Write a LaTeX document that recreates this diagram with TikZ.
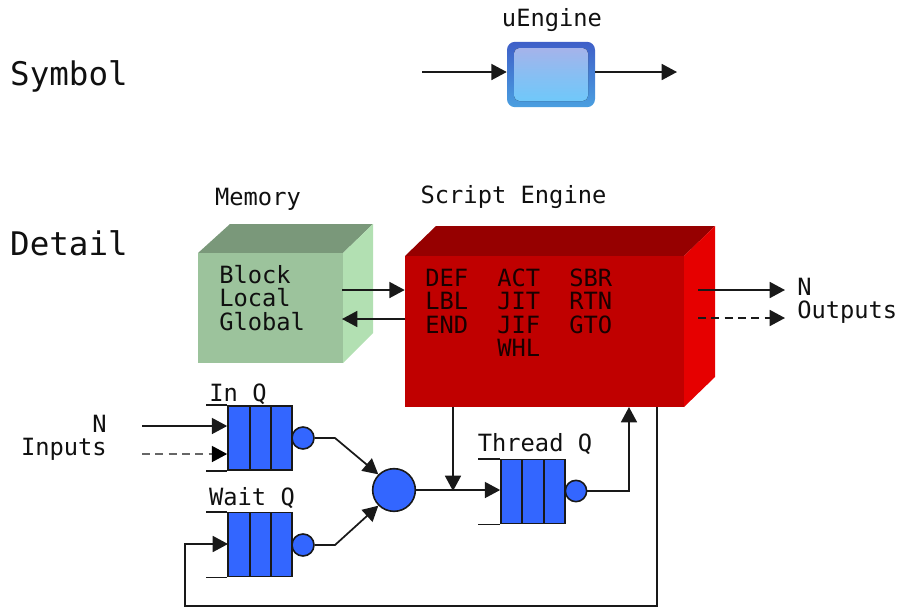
\documentclass[tikz,border=0pt]{standalone}
\usepackage{fontspec}
\setmonofont{DejaVu Sans Mono}
\usetikzlibrary{arrows.meta}
\definecolor{qblue}{HTML}{3366FF}
\definecolor{memfront}{HTML}{9CC39C}
\definecolor{memtop}{HTML}{7A987A}
\definecolor{memside}{HTML}{B2E0B2}
\definecolor{redfront}{HTML}{C00000}
\definecolor{redtop}{HTML}{960000}
\definecolor{redside}{HTML}{E60000}
\definecolor{ink}{HTML}{101010}
\tikzset{
    lbl/.style={font=\ttfamily\fontsize{17.8}{21}\selectfont, text=ink, inner sep=0pt},
    title/.style={font=\ttfamily\fontsize{24.4}{28}\selectfont, text=ink, inner sep=0pt},
    flow/.style={-{Triangle[length=11.5pt,width=12pt]}, line width=1.3pt, black!90},
    plain/.style={line width=1.2pt, black!90},
    queue/.style={draw=black!90, fill=qblue, line width=1.2pt, inner sep=0pt, minimum width=48pt, minimum height=48pt},
    ball/.style={circle, draw=black!90, fill=qblue, line width=1.2pt, inner sep=0pt},
}
\begin{document}
\begin{tikzpicture}[x=0.75pt,y=-0.75pt]
        \useasboundingbox (0,0) rectangle (897,608);
        \node[title] (symbol) at (69,76) {Symbol};
        \node[title] (detail) at (69,243) {Detail};
        % symbol
        \definecolor{uA}{HTML}{3F5FC8}
        \definecolor{uB}{HTML}{4A9FE0}
        \definecolor{uC}{HTML}{A5B3EA}
        \definecolor{uD}{HTML}{6FC8FA}
        \node[lbl] (ulabel) at (552,20) {uEngine};
        \node[rounded corners=6pt, top color=uA, bottom color=uB, minimum width=66pt, minimum height=49pt, inner sep=0pt] (uEng) at (551,74.5) {};
        \fill[rounded corners=4pt, top color=uC, bottom color=uD, middle color=uD!55!uC] (514,48) rectangle (588,101);
        \coordinate (uIn) at (422,72);
        \coordinate (uOut) at (677,72);
        \draw[flow] (uIn) -- (uEng.west |- uIn);
        \draw[flow] (uEng.east |- uOut) -- (uOut);
        % memory
        \node[lbl] (memlabel) at (258,199) {Memory};
        \fill[memtop] (198,253) -- (230,224) -- (373,224) -- (343,253) -- cycle;
        \fill[memside] (343,253) -- (373,224) -- (373,333) -- (343,363) -- cycle;
        \node[fill=memfront, minimum width=108.75pt, minimum height=82.5pt, inner sep=0pt] (Mem) at (270.5,308) {};
        \node[lbl, anchor=west] (block) at (219,275) {Block};
        \node[lbl, anchor=west] (local) at (219,298) {Local};
        \node[lbl, anchor=west] (global) at (219,322) {Global};
        % script engine
        \node[lbl] (englabel) at (513.5,197) {Script Engine};
        \fill[redtop] (405,256) -- (436,226) -- (715,226) -- (684,256) -- cycle;
        \fill[redside] (684,256) -- (715,226) -- (715,377) -- (684,407) -- cycle;
        \node[fill=redfront, minimum width=209.25pt, minimum height=113.25pt, inner sep=0pt] (Eng) at (544.5,331.5) {};
        \foreach \name/\xx/\yy/\word in {def/425/278/DEF, lbl/425/301/LBL, end/425/325/END,
            act/497/278/ACT, jit/497/301/JIT, jif/497/325/JIF, whl/497/348/WHL,
            sbr/569/278/SBR, rtn/569/301/RTN, gto/569/325/GTO}
            \node[lbl, anchor=west, text=black!90!red] (\name) at (\xx,\yy) {\word};
        % queues
        \node[lbl] (inlabel) at (238,394) {In Q};
        \node[queue] (InQ) at (260,438) {};
        \node[ball, minimum size=16.5pt] (InB) at (303,438) {};
        \node[lbl] (waitlabel) at (252,498) {Wait Q};
        \node[queue] (WaitQ) at (260,544.5) {};
        \node[ball, minimum size=16.5pt] (WaitB) at (303,545) {};
        \node[lbl] (threadlabel) at (535,444) {Thread Q};
        \node[queue] (ThreadQ) at (533,491.5) {};
        \node[ball, minimum size=16pt] (ThreadB) at (576,491) {};
        \node[ball, minimum size=32pt] (Merge) at (394,490) {};
        \foreach \q/\ya/\yb in {InQ/406/470, WaitQ/512.5/576.5} {
            \draw[plain] (250,\ya) -- (250,\yb);
            \draw[plain] (271,\ya) -- (271,\yb);
            \draw[plain] (\q.north west) -- ++(-21,0);
            \draw[plain] (\q.south west) -- ++(-21,0);
        }
        \draw[plain] (522,459.5) -- (522,523.5);
        \draw[plain] (544,459.5) -- (544,523.5);
        \draw[plain] (ThreadQ.north west) -- ++(-22,0);
        \draw[plain] (ThreadQ.south west) -- ++(-22,0);
        % io labels
        \node[lbl, anchor=east] (inN) at (107,424) {N};
        \node[lbl, anchor=east] (inputs) at (107,449) {Inputs};
        \node[lbl, anchor=west] (outN) at (797,287) {N};
        \node[lbl, anchor=west] (outputs) at (797,312) {Outputs};
        % connectors
        \coordinate (memA) at (342,290);
        \coordinate (memB) at (342,319);
        \coordinate (engA) at (405,319);
        \coordinate (outA) at (698,290);
        \coordinate (outAe) at (785,290);
        \coordinate (outB) at (698,318);
        \coordinate (outBe) at (785,318);
        \coordinate (inA) at (142,426);
        \coordinate (inB) at (142,454);
        \coordinate (fb) at (657,407);
        \coordinate (fbin) at (228,544);
        \draw[flow] (memA) -- (Eng.west |- memA);
        \draw[flow] (engA) -- (memB);
        \draw[flow] (outA) -- (outAe);
        \draw[flow, dash pattern=on 6pt off 4pt] (outB) -- (outBe);
        \draw[flow] (inA) -- (InQ.west |- inA);
        \draw[flow, black!60, dash pattern=on 6pt off 4pt, -{Triangle[length=11.5pt,width=12pt,black]}] (inB) -- (InQ.west |- inB);
        \draw[flow] (InB.east) -- (335,438) -- (Merge.north west);
        \draw[flow] (WaitB.east) -- (335,545) -- (Merge.south west);
        \draw[flow] (Merge.east) -- (ThreadQ.west |- Merge.east);
        \draw[flow] (453,407) -- (453,491);
        \draw[flow] (ThreadB.east) -- (629,491) -- (629,407);
        \draw[flow] (fb) -- (657,606) -- (185,606) -- (185,544) -- (fbin);
    \end{tikzpicture}
\end{document}
